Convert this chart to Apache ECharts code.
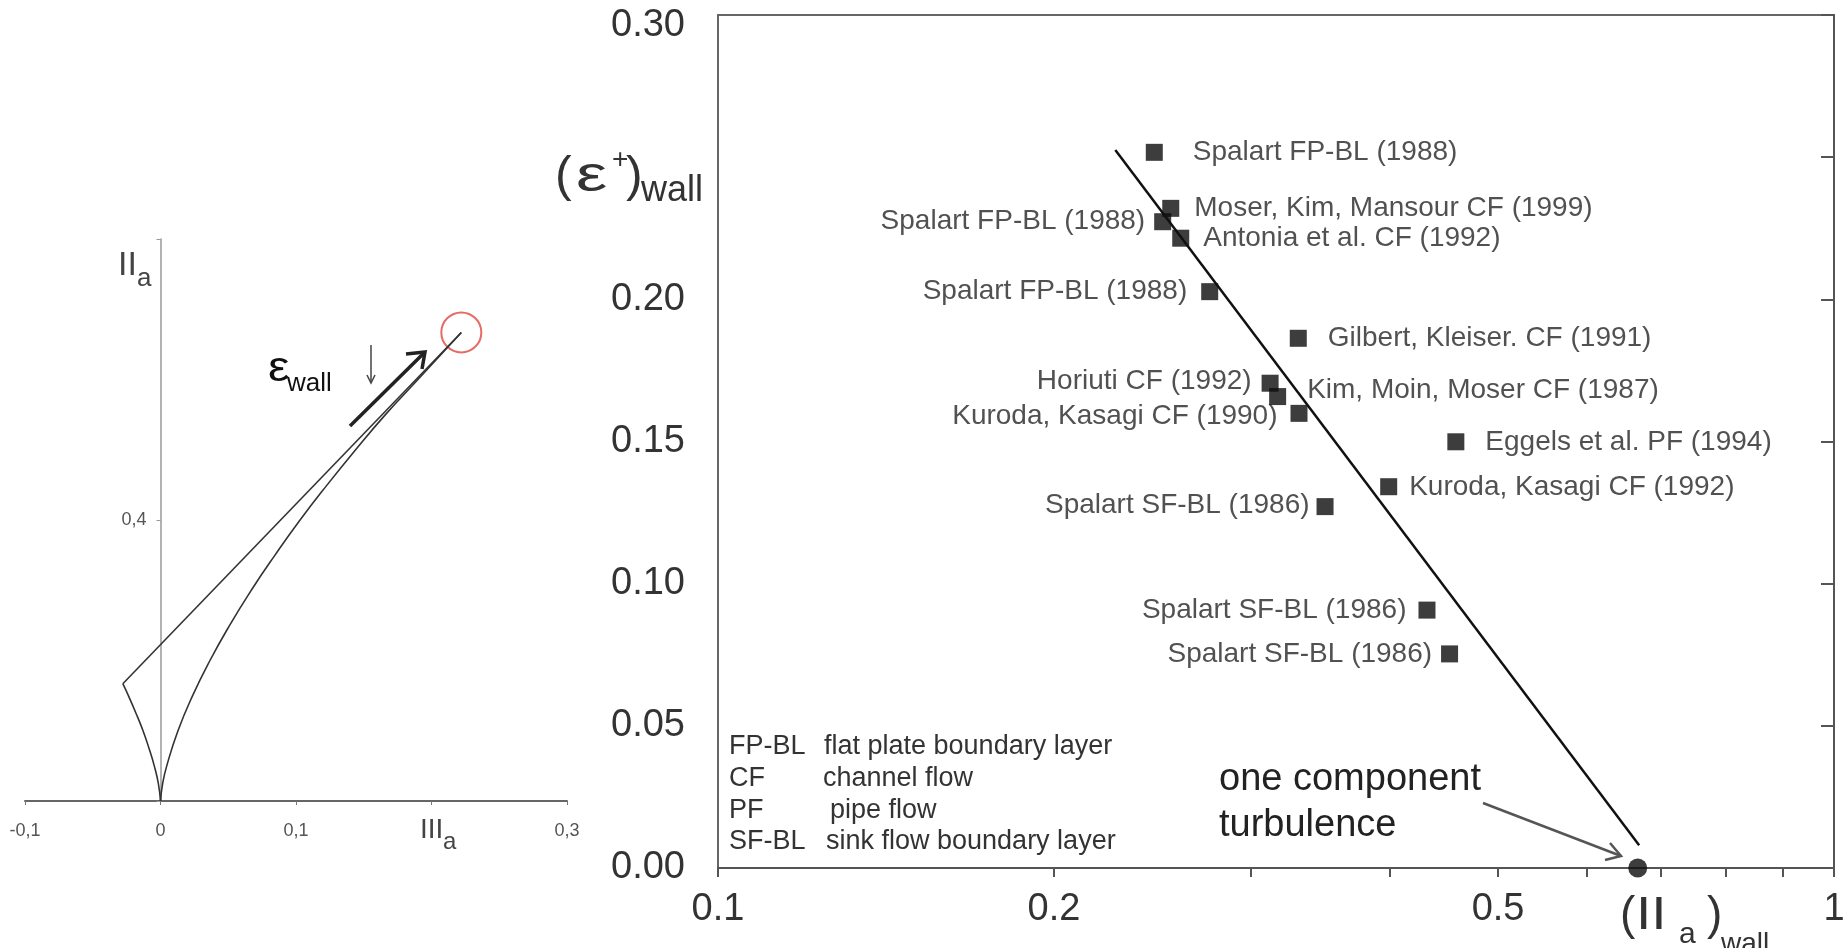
<!DOCTYPE html>
<html lang="en">
<head>
  <meta charset="UTF-8">
  <title>Wall dissipation vs. anisotropy invariant</title>
  <script src="https://cdn.jsdelivr.net/npm/echarts@6/dist/echarts.min.js"></script>
  <style>html, body { margin: 0; padding: 0; background: #fff; }</style>
</head>
<body>
  <div id="main" style="width: 1847px; height: 948px;"></div>

  <script type="text/javascript">
    // ---- right panel: DNS data, (IIa)wall vs (eps+)wall ----
    const studies = [
      'Spalart FP-BL (1988)', 'Moser, Kim, Mansour CF (1999)', 'Spalart FP-BL (1988)',
      'Antonia et al. CF (1992)', 'Spalart FP-BL (1988)', 'Gilbert, Kleiser. CF (1991)',
      'Horiuti CF (1992)', 'Kim, Moin, Moser CF (1987)', 'Kuroda, Kasagi CF (1990)',
      'Eggels et al. PF (1994)', 'Kuroda, Kasagi CF (1992)', 'Spalart SF-BL (1986)',
      'Spalart SF-BL (1986)', 'Spalart SF-BL (1986)'
    ];
    const iiWall  = [0.246, 0.2545, 0.2503, 0.2598, 0.2758, 0.3311, 0.3124, 0.3173, 0.3316, 0.4583, 0.399, 0.3499, 0.4318, 0.4524];
    const epsWall = [0.2517, 0.232, 0.2273, 0.2215, 0.2027, 0.1863, 0.1705, 0.1658, 0.1599, 0.1499, 0.1341, 0.1271, 0.0907, 0.0753];

    // fitted line and the one component limit
    const fitII  = [0.227, 0.669];
    const fitEps = [0.2525, 0.008];
    const oneCompII  = [0.667];
    const oneCompEps = [0];

    // ticks of the right panel
    const xTickVals  = [0.1, 0.2, 0.3, 0.4, 0.5, 0.6, 0.7, 0.8, 0.9, 1];
    const xLabelVals = [0.1, 0.2, 0.5, 1];

    // ---- left panel: anisotropy invariant map (IIIa, IIa) ----
    const axiRightIII = [0, 0.0016, 0.0046, 0.0129, 0.0237, 0.0365, 0.051, 0.067, 0.0845, 0.103, 0.123, 0.144, 0.166, 0.19, 0.222];
    const axiRightII  = [0, 0.025, 0.05, 0.1, 0.15, 0.2, 0.25, 0.3, 0.35, 0.4, 0.45, 0.5, 0.55, 0.6, 0.667];
    const axiLeftIII  = [0, -0.0016, -0.0046, -0.0085, -0.0129, -0.0181, -0.0237, -0.0278];
    const axiLeftII   = [0, 0.025, 0.05, 0.075, 0.1, 0.125, 0.15, 0.167];
    const twoCompIII  = [-0.0278, 0.222];
    const twoCompII   = [0.167, 0.667];
    const wallPoint   = [0.222, 0.667];

    // where each study label sits: [side, distance, dy]
    const labelPlace = [
      ['right', 30, 0], ['right', 15, 0], ['left', 9, 0], ['right', 14, 0], ['left', 14, 0],
      ['right', 21, 0], ['left', 10, -2], ['right', 21, -6], ['left', 13, 3], ['right', 21, 0],
      ['right', 12, 1], ['left', 7, -1], ['left', 12, 0], ['left', 9, 0]
    ];

    const FONT = '"Liberation Sans", Arial, Helvetica, sans-serif';
    const zip = (a, b) => a.map((v, i) => [v, b[i]]);
    const near = (a, b) => Math.abs(a - b) < 1e-9;

    const studyData = studies.map((name, i) => ({
      value: [iiWall[i], epsWall[i]],
      name: name,
      label: {
        position: labelPlace[i][0],
        distance: labelPlace[i][1],
        offset: [0, labelPlace[i][2]]
      }
    }));

    let myChart = echarts.init(document.getElementById('main'));

    // text pieces drawn on top (axis names with sub/superscripts, notes)
    const txt = (text, x, y, size, color, sx) => ({
      type: 'text', silent: true, x: x, y: y, scaleX: sx || 1,
      style: {
        text: text, x: 0, y: 0, fill: color || '#222',
        font: size + 'px ' + FONT,
        align: 'left', verticalAlign: 'middle'
      }
    });
    const poly = (points, color, width) => ({
      type: 'polyline', silent: true,
      shape: { points: points },
      style: { stroke: color, lineWidth: width, fill: null, lineJoin: 'miter' }
    });

    let options = {
      animation: false,
      backgroundColor: '#fff',
      textStyle: { fontFamily: FONT },
      grid: [
        { left: 25, top: 239, width: 542, height: 562, containLabel: false, outerBoundsMode: 'none' },
        {
          left: 718, top: 15, width: 1116, height: 853, containLabel: false, outerBoundsMode: 'none',
          show: true, borderColor: '#666', borderWidth: 2
        }
      ],
      xAxis: [
        {
          gridIndex: 0, type: 'value', min: -0.1, max: 0.3, interval: 0.1,
          splitLine: { show: false },
          axisLine: { onZero: false, lineStyle: { color: '#666', width: 2 } },
          axisTick: { length: 4, lineStyle: { color: '#777', width: 1 } },
          axisLabel: {
            fontSize: 18, color: '#555', margin: 21,
            formatter: v => near(v, 0.2) ? '' : String(Math.round(v * 10) / 10).replace('.', ',')
          }
        },
        { gridIndex: 1, type: 'log', logBase: 10, min: 0.1, max: 1, show: false },
        {
          gridIndex: 1, type: 'value', min: -1, max: 0, position: 'bottom',
          splitLine: { show: false },
          axisLine: { lineStyle: { color: '#555', width: 2 } },
          axisTick: {
            length: 9, lineStyle: { color: '#555', width: 2 },
            customValues: xTickVals.map(v => Math.max(-1, Math.log10(v)))
          },
          axisLabel: {
            fontSize: 38, color: '#333', margin: 23,
            customValues: xLabelVals.map(v => Math.max(-1, Math.log10(v))),
            formatter: v => String(Math.round(Math.pow(10, v) * 10) / 10)
          }
        }
      ],
      yAxis: [
        {
          // the IIa axis stands at IIIa = 0, i.e. 0.1 / 0.4 of the width in from the left
          gridIndex: 0, type: 'value', min: 0, max: 0.8, interval: 0.4,
          position: 'left', offset: -135.5,
          splitLine: { show: false },
          axisLine: { onZero: false, lineStyle: { color: '#999', width: 1.5 } },
          axisTick: { length: 4, lineStyle: { color: '#999' } },
          axisLabel: {
            fontSize: 18, color: '#555', margin: 14,
            formatter: v => near(v, 0.4) ? '0,4' : ''
          }
        },
        {
          gridIndex: 1, type: 'value', min: 0, max: 0.3, interval: 0.05,
          splitLine: { show: false },
          axisLine: { lineStyle: { color: '#555', width: 2 } },
          axisTick: { length: 13, lineStyle: { color: '#555', width: 2 } },
          axisLabel: {
            fontSize: 38, color: '#333', margin: 33,
            formatter: v => {
              if (near(v, 0.25)) return '';
              if (near(v, 0.3)) return '{t|0.30}';
              return v.toFixed(2);
            },
            rich: { t: { fontSize: 38, color: '#333', padding: [22, 0, 0, 0] } }
          }
        }
      ],
      series: [
        // left panel
        {
          type: 'line', xAxisIndex: 0, yAxisIndex: 0, smooth: true, showSymbol: false,
          data: zip(axiRightIII, axiRightII),
          lineStyle: { color: '#333', width: 1.6 }
        },
        {
          type: 'line', xAxisIndex: 0, yAxisIndex: 0, smooth: true, showSymbol: false,
          data: zip(axiLeftIII, axiLeftII),
          lineStyle: { color: '#333', width: 1.6 }
        },
        {
          type: 'line', xAxisIndex: 0, yAxisIndex: 0, showSymbol: false,
          data: zip(twoCompIII, twoCompII),
          lineStyle: { color: '#333', width: 1.6 }
        },
        {
          type: 'scatter', xAxisIndex: 0, yAxisIndex: 0, symbol: 'circle', symbolSize: 40,
          data: [wallPoint],
          itemStyle: { color: 'rgba(0,0,0,0)', borderColor: '#e0463f', borderWidth: 2 }
        },
        // right panel
        {
          type: 'line', xAxisIndex: 1, yAxisIndex: 1, showSymbol: false,
          data: zip(fitII, fitEps),
          lineStyle: { color: '#111', width: 2.5 }
        },
        {
          type: 'scatter', xAxisIndex: 1, yAxisIndex: 1, symbol: 'rect', symbolSize: 17,
          data: studyData,
          itemStyle: { color: '#0d0d0d' },
          label: {
            show: true, fontSize: 28, color: '#262626',
            formatter: p => p.name
          }
        },
        {
          type: 'scatter', xAxisIndex: 1, yAxisIndex: 1, symbol: 'circle', symbolSize: 19,
          data: zip(oneCompII, oneCompEps),
          itemStyle: { color: '#0d0d0d' }
        }
      ],
      graphic: [
        // left panel axis names and the wall arrow
        txt('II', 118, 266, 34, '#444'),
        txt('a', 137, 279, 26, '#444'),
        txt('III', 420, 830, 28, '#444'),
        txt('a', 443, 842, 24, '#444'),
        txt('\u03b5', 268, 369, 42, '#111', 1.15),
        txt('wall', 287, 384, 26, '#111'),
        poly([[350, 426], [425, 352]], '#222', 3.5),
        poly([[406, 354], [425, 352], [422, 369]], '#222', 3.5),
        poly([[371, 345], [371, 383]], '#444', 1.5),
        poly([[367, 375], [371, 383], [375, 375]], '#444', 1.5),

        // right panel axis names
        txt('(', 555, 177, 50, '#333'),
        txt('\u03b5', 576, 177, 50, '#333', 1.4),
        txt('+', 612, 160, 28, '#333'),
        txt(')', 626, 177, 50, '#333'),
        txt('wall', 641, 191, 36, '#333'),
        txt('(', 1620, 916, 46, '#333'),
        txt('II', 1636, 916, 46, '#333', 1.2),
        txt('a', 1679, 935, 30, '#333'),
        txt(')', 1707, 916, 46, '#333'),
        txt('wall', 1721, 944, 28, '#333'),

        // one component note
        txt('one component', 1219, 780, 38, '#222'),
        txt('turbulence', 1219, 826, 38, '#222'),
        poly([[1483, 803], [1621, 856]], '#555', 2.5),
        poly([[1610, 843], [1621, 856], [1605, 860]], '#555', 2.5),

        // abbreviations
        txt('FP-BL', 729, 747, 27, '#333'),
        txt('flat plate boundary layer', 824, 747, 27, '#333'),
        txt('CF', 729, 779, 27, '#333'),
        txt('channel flow', 823, 779, 27, '#333'),
        txt('PF', 729, 811, 27, '#333'),
        txt('pipe flow', 830, 811, 27, '#333'),
        txt('SF-BL', 729, 842, 27, '#333'),
        txt('sink flow boundary layer', 826, 842, 27, '#333')
      ]
    };

    myChart.setOption(options);
  </script>
</body>
</html>
